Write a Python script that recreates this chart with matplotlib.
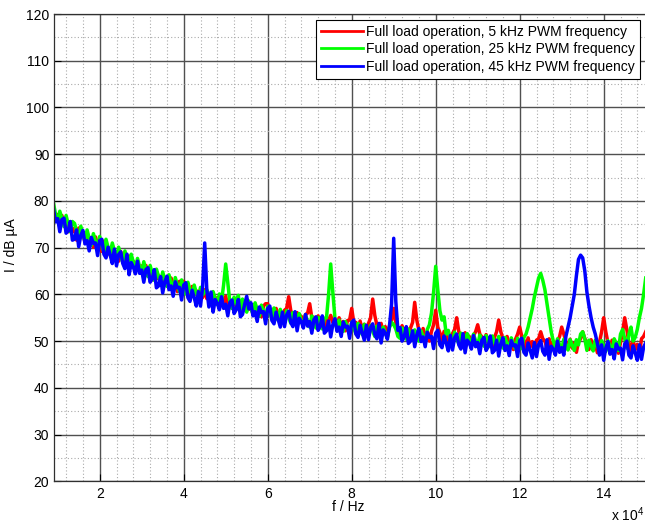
import matplotlib
matplotlib.use("Agg")
import matplotlib.pyplot as plt
from matplotlib.ticker import MultipleLocator, FuncFormatter

plt.rcParams['font.family'] = ['Liberation Sans', 'DejaVu Sans']
plt.rcParams['mathtext.fontset'] = 'custom'
plt.rcParams['mathtext.rm'] = 'Liberation Sans'

# frequency axis: 9 kHz .. 150 kHz, 0.5 kHz resolution (283 points)
f_start_hz = 9000
f_step_hz = 500

# each row = 5 kHz (10 samples)
red_5k = [
    78.4, 76.4, 77.1, 74.9, 76.9, 75.0, 75.6, 73.4, 75.5, 73.5,
    74.1, 71.6, 74.2, 72.9, 73.1, 71.1, 73.2, 71.4, 72.1, 70.1,
    72.3, 70.5, 71.3, 69.2, 71.4, 69.6, 70.1, 68.3, 70.5, 68.7,
    69.1, 67.1, 69.2, 67.4, 68.1, 66.1, 68.2, 66.4, 67.1, 65.1,
    67.2, 65.4, 66.1, 64.1, 66.2, 64.4, 65.1, 63.1, 65.2, 63.3,
    64.1, 62.3, 64.3, 62.5, 63.3, 61.3, 63.5, 61.7, 62.6, 60.6,
    62.8, 61.0, 62.8, 61.5, 61.5, 59.5, 61.7, 60.0, 60.8, 58.8,
    61.1, 59.3, 61.0, 59.1, 59.9, 58.0, 60.2, 58.5, 59.3, 57.4,
    59.6, 57.9, 59.6, 57.6, 58.9, 57.0, 59.0, 57.4, 58.2, 56.3,
    58.6, 56.9, 59.0, 56.8, 57.6, 55.8, 57.9, 56.2, 57.1, 55.2,
    57.5, 58.0, 58.0, 56.0, 56.8, 54.8, 57.0, 55.3, 56.2, 54.4,
    56.6, 57.0, 59.5, 56.5, 55.6, 54.0, 56.1, 54.4, 55.3, 53.5,
    55.7, 56.0, 58.0, 55.0, 55.1, 53.3, 55.4, 53.6, 54.6, 52.8,
    54.9, 54.5, 55.5, 54.0, 54.6, 52.8, 55.0, 53.0, 54.2, 52.2,
    54.4, 54.5, 57.0, 54.0, 54.0, 52.2, 54.3, 52.4, 53.6, 51.6,
    53.8, 55.0, 59.0, 55.5, 53.4, 51.8, 53.8, 51.8, 53.1, 51.1,
    53.3, 54.5, 57.0, 54.0, 52.9, 51.3, 53.3, 51.3, 52.6, 50.6,
    52.8, 54.0, 58.3, 54.5, 52.3, 50.8, 52.7, 50.7, 52.0, 50.0,
    52.1, 53.5, 56.6, 53.0, 51.8, 50.2, 52.1, 50.2, 51.4, 49.4,
    51.6, 52.5, 55.0, 52.0, 51.3, 49.7, 51.8, 49.8, 51.0, 49.0,
    51.2, 52.0, 53.5, 51.5, 50.9, 49.3, 51.4, 49.5, 50.6, 48.6,
    50.8, 52.0, 54.5, 52.0, 50.5, 48.9, 51.0, 49.1, 50.2, 48.2,
    50.4, 51.5, 53.0, 51.0, 50.2, 48.6, 50.7, 48.8, 49.9, 47.9,
    50.2, 50.5, 52.0, 50.5, 50.0, 48.4, 50.5, 48.6, 49.7, 47.7,
    50.0, 51.0, 53.0, 51.5, 49.9, 48.3, 50.4, 48.5, 49.6, 47.6,
    49.9, 50.5, 52.0, 50.5, 49.8, 48.2, 50.3, 48.4, 49.5, 47.5,
    49.8, 52.0, 55.0, 52.0, 49.7, 48.1, 50.2, 48.3, 49.4, 47.4,
    49.7, 52.0, 55.0, 52.5, 49.6, 48.0, 50.1, 48.2, 49.3, 47.3,
    50.5, 51.0, 52.0,
]

green_25k = [
    79.6, 77.0, 75.6, 77.8, 76.2, 74.5, 76.9, 75.0, 73.4, 75.6,
    75.2, 73.5, 72.0, 74.6, 72.9, 71.4, 73.8, 72.0, 70.5, 73.0,
    71.3, 69.9, 72.4, 70.6, 69.0, 71.8, 70.0, 68.5, 71.0, 69.3,
    67.5, 70.1, 68.4, 66.8, 69.3, 67.7, 66.0, 68.6, 66.9, 65.3,
    67.7, 66.0, 64.5, 67.0, 65.2, 63.8, 66.2, 64.6, 63.0, 65.4,
    63.9, 62.3, 64.8, 63.1, 61.7, 64.2, 62.5, 61.1, 63.6, 62.0,
    60.6, 63.1, 61.4, 60.1, 62.6, 61.0, 59.6, 62.0, 60.4, 59.1,
    61.5, 59.9, 60.5, 61.0, 59.5, 58.3, 60.6, 59.1, 57.8, 60.1,
    58.5, 62.0, 66.5, 62.5, 58.2, 57.0, 59.4, 58.0, 59.8, 56.6,
    59.0, 57.5, 56.2, 58.6, 57.1, 55.7, 58.2, 56.7, 55.3, 57.7,
    56.4, 55.0, 57.5, 56.0, 54.7, 57.1, 55.6, 54.4, 56.8, 55.3,
    54.1, 56.5, 55.0, 53.8, 56.1, 54.7, 53.5, 55.9, 54.4, 53.2,
    55.6, 54.2, 53.0, 55.4, 53.9, 52.8, 55.1, 53.7, 52.6, 54.9,
    55.0, 60.0, 66.5, 60.5, 55.0, 52.4, 54.5, 53.2, 52.1, 54.2,
    53.0, 51.9, 54.1, 52.8, 51.6, 53.8, 52.5, 51.4, 53.6, 52.3,
    51.2, 53.4, 52.1, 51.0, 53.2, 51.9, 50.8, 53.0, 51.8, 50.7,
    52.9, 54.0, 53.5, 52.6, 51.0, 50.6, 52.8, 51.4, 50.4, 52.6,
    51.3, 50.2, 52.4, 51.1, 50.0, 52.2, 50.9, 49.9, 52.5, 53.5,
    56.0, 60.5, 66.0, 61.0, 56.5, 54.5, 55.2, 51.5, 52.3, 50.4,
    49.6, 51.9, 50.6, 49.4, 51.7, 50.4, 49.2, 51.6, 50.3, 49.1,
    51.5, 50.1, 49.0, 51.3, 50.0, 48.9, 51.2, 49.9, 48.8, 51.1,
    49.7, 48.6, 51.0, 49.6, 48.5, 50.8, 49.5, 48.4, 50.7, 49.4,
    48.3, 50.6, 49.3, 48.4, 50.8, 51.5, 53.0, 55.0, 57.0, 59.5,
    61.5, 63.5, 64.5, 63.0, 61.0, 58.0, 55.0, 52.0, 50.0, 48.6,
    50.5, 49.2, 48.2, 50.4, 49.1, 48.1, 50.3, 49.1, 48.0, 50.3,
    49.2, 51.5, 52.0, 50.5, 48.0, 50.2, 49.0, 47.9, 50.2, 49.0,
    47.9, 50.1, 48.9, 47.8, 50.1, 48.9, 47.8, 50.5, 49.5, 48.0,
    51.5, 52.5, 50.5, 48.5, 51.5, 53.0, 50.0, 50.8, 52.5, 55.0,
    57.0, 60.0, 63.5,
]

blue_45k = [
    78.3, 75.5, 76.2, 73.4, 76.0, 76.3, 73.1, 73.6, 75.6, 71.6,
    71.8, 73.8, 70.2, 72.6, 73.7, 70.8, 71.5, 69.3, 72.2, 70.9,
    71.0, 68.3, 71.5, 71.8, 68.6, 67.8, 70.1, 68.4, 66.6, 69.7,
    66.1, 68.5, 69.1, 66.6, 65.5, 68.6, 64.2, 66.8, 65.9, 64.4,
    67.1, 64.5, 65.2, 62.6, 65.3, 65.7, 62.6, 63.3, 65.3, 61.4,
    61.8, 63.8, 60.3, 62.7, 63.9, 61.0, 61.8, 59.6, 62.7, 61.4,
    61.5, 58.8, 62.0, 62.5, 59.3, 58.5, 60.9, 59.3, 57.5, 60.6,
    57.5, 61.5, 71.0, 61.0, 57.3, 60.5, 56.2, 58.9, 58.1, 56.7,
    59.5, 57.0, 57.9, 55.4, 58.3, 58.8, 55.9, 56.7, 58.9, 55.2,
    55.7, 57.8, 59.6, 56.9, 58.2, 55.4, 56.3, 54.2, 57.3, 56.1,
    56.3, 53.7, 57.0, 57.5, 54.4, 53.7, 56.2, 54.6, 53.0, 56.2,
    53.1, 55.6, 56.4, 54.0, 53.1, 56.3, 52.2, 54.9, 54.2, 52.8,
    55.7, 53.2, 54.2, 51.7, 54.6, 55.2, 52.3, 53.1, 55.4, 51.7,
    52.2, 54.3, 50.9, 53.5, 54.8, 52.1, 53.0, 51.0, 54.1, 53.0,
    53.2, 50.6, 54.0, 54.5, 51.5, 50.8, 53.4, 51.8, 50.2, 53.4,
    50.3, 52.9, 53.7, 51.4, 50.5, 53.8, 49.6, 52.4, 51.7, 50.4,
    53.3, 58.0, 72.0, 58.5, 52.3, 52.9, 50.0, 50.9, 53.1, 49.5,
    50.0, 52.2, 48.8, 51.3, 52.7, 49.9, 50.9, 48.8, 51.9, 50.8,
    51.0, 48.4, 51.7, 52.3, 49.2, 48.6, 51.1, 49.6, 47.9, 51.2,
    48.1, 50.7, 51.5, 49.2, 48.3, 51.6, 47.5, 50.2, 49.6, 48.3,
    51.2, 48.8, 49.7, 47.3, 50.2, 50.8, 48.0, 48.8, 51.1, 47.5,
    48.0, 50.2, 46.8, 49.4, 50.7, 48.0, 49.0, 46.9, 50.1, 49.0,
    49.2, 46.7, 50.1, 50.6, 47.6, 47.0, 49.6, 48.0, 46.4, 49.7,
    46.7, 49.3, 50.1, 47.8, 47.0, 50.3, 46.1, 48.9, 48.3, 47.0,
    50.0, 47.6, 48.6, 47.0, 51.0, 53.0, 55.0, 57.5, 60.0, 64.0,
    67.5, 68.4, 67.8, 65.0, 60.5, 57.5, 55.0, 53.0, 51.5, 49.5,
    47.0, 49.2, 45.9, 48.5, 49.9, 47.2, 48.2, 46.2, 49.4, 48.3,
    48.5, 46.0, 49.4, 50.0, 47.0, 46.4, 49.0, 47.5, 45.9, 49.2,
    46.1, 48.7, 49.6,
]

labels = ["Full load operation, 5 kHz PWM frequency",
          "Full load operation, 25 kHz PWM frequency",
          "Full load operation, 45 kHz PWM frequency"]
colors = ["#ff0000", "#00ff00", "#0000ff"]

W, H = 645, 523
fig = plt.figure(figsize=(W / 100, H / 100), dpi=100)
x0, x1 = 53.5, 645.7
y_top, y_bot = 14.0, 481.3
ax = fig.add_axes([x0 / W, 1 - y_bot / H, (x1 - x0) / W, (y_bot - y_top) / H])

for ys, c, lab in zip([red_5k, green_25k, blue_45k], colors, labels):
    xs = [f_start_hz + i * f_step_hz for i in range(len(ys))]
    ax.plot(xs, ys, color=c, lw=2.5, label=lab)

ax.set_xlim(9000, 150000)
ax.set_ylim(20, 120)
ax.xaxis.set_major_locator(MultipleLocator(20000))
ax.xaxis.set_minor_locator(MultipleLocator(4000))
ax.yaxis.set_major_locator(MultipleLocator(10))
ax.yaxis.set_minor_locator(MultipleLocator(5))
ax.xaxis.set_major_formatter(FuncFormatter(lambda v, p: f"{v/1e4:g}"))

ax.grid(which='major', color='#505050', linestyle='-', linewidth=1.0)
ax.grid(which='minor', color='#aaaaaa', linestyle=(0, (1, 2)), linewidth=0.8)
ax.set_axisbelow(True)

ax.tick_params(which='major', direction='in', length=5, width=0.8,
               labelsize=10, colors='black', pad=4)
ax.tick_params(which='minor', length=0)
ax.tick_params(axis='y', pad=3)
ax.spines['right'].set_visible(False)
for s in ['left', 'bottom', 'top']:
    ax.spines[s].set_color('#303030')
    ax.spines[s].set_linewidth(0.9)

ax.set_xlabel("f / Hz", fontsize=10)
ax.set_ylabel("I / dB \u00b5A", fontsize=10)
ax.xaxis.set_label_coords(0.4975, -0.040)
ax.yaxis.set_label_coords(-0.060, 0.505)

fig.text(611 / W, 1 - 515 / H, "x 10$^4$", fontsize=10, ha='left', va='center')

leg = ax.legend(loc='upper right', bbox_to_anchor=(640 / W, 1 - 20 / H),
                bbox_transform=fig.transFigure, borderaxespad=0,
                fancybox=False, framealpha=1, edgecolor='black',
                fontsize=10, handlelength=3.0, handletextpad=0.25,
                labelspacing=0.25, borderpad=0.35)
leg.get_frame().set_linewidth(0.8)
for l in leg.get_lines():
    l.set_linewidth(2.0)

fig.savefig("out.png", dpi=100)
